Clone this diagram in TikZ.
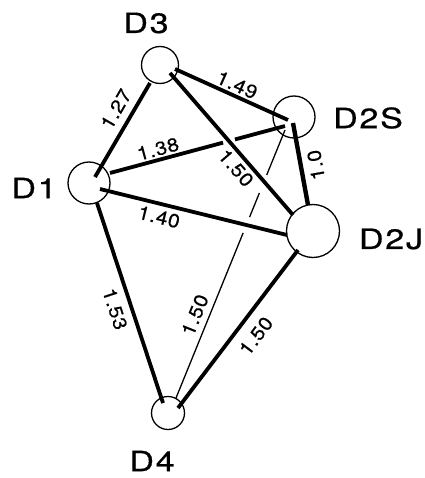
\documentclass[tikz,border=0pt]{standalone}
\usepackage{fontspec}
\setmainfont{TeX Gyre Heros}
\newfontfamily\bigfont[LetterSpace=6,FakeStretch=1.22,FakeBold=0.6]{TeX Gyre Heros}
\newfontfamily\smallfont[LetterSpace=3,FakeStretch=1.1,FakeBold=0.5]{TeX Gyre Heros}
\usetikzlibrary{calc}
\tikzset{
  site/.style={circle, draw, line width=1.3pt, inner sep=0pt},
  name label/.style={font=\bigfont\fontsize{28}{30}\selectfont, inner sep=0pt},
  wlabel/.style={font=\smallfont\fontsize{19}{20}\selectfont, inner sep=0pt},
  heavy/.style={line width=3.8pt},
  light/.style={line width=1.3pt}
}
\begin{document}
\begin{tikzpicture}[x=1pt,y=-1pt]
\useasboundingbox (0,0) rectangle (424,478);
% sites
\node[site, minimum size=37pt] (d3) at (160,65) {};
\node[site, minimum size=42pt] (d2s) at (294,117) {};
\node[site, minimum size=42pt] (d1) at (89,183) {};
\node[site, minimum size=53pt] (d2j) at (313,231) {};
\node[site, minimum size=33pt] (d4) at (168,413) {};
% names
\node[name label] (t3) at (146,23) {D3};
\node[name label] (t2s) at (368,118) {D2S};
\node[name label] (t1) at (34,188) {D1};
\node[name label] (t2j) at (391,239) {D2J};
\node[name label] (t4) at (152,461) {D4};
% end points of connectors
\coordinate (a13) at ($(d1)+(6,-6)$);
\coordinate (b13) at ($(d3)+(-10,18)$);
\coordinate (a32s) at ($(d3)+(15,4)$);
\coordinate (b32s) at ($(d2s)+(-6,3)$);
\coordinate (a32j) at ($(d3)+(10,8)$);
\coordinate (b32j) at ($(d2j)+(-20,-16)$);
\coordinate (a12s) at ($(d1)+(21,-10)$);
\coordinate (b12s) at ($(d2s)+(-9,9)$);
\coordinate (a12j) at ($(d1)+(11,6)$);
\coordinate (b12j) at ($(d2j)+(-26,4)$);
\coordinate (a2s2j) at ($(d2s)+(-1,6)$);
\coordinate (b2s2j) at ($(d2j)+(-5,-26)$);
\coordinate (a14) at ($(d1)+(8,20)$);
\coordinate (b14) at ($(d4)+(-5,-10)$);
\coordinate (a2s4) at ($(d2s)+(-9,13)$);
\coordinate (b2s4) at ($(d4)+(8,-15)$);
\coordinate (a2j4) at ($(d2j)+(-15,19)$);
\coordinate (b2j4) at ($(d4)+(10,-5)$);
% connectors
\draw[heavy] (a13) -- (b13);
\draw[heavy] (a32s) -- (b32s);
\draw[heavy] (a32j) -- (b32j);
\draw[heavy] (a12s) -- ($(a12s)!0.646!(b12s)$);
\draw[heavy] ($(a12s)!0.714!(b12s)$) -- (b12s);
\draw[heavy] (a12j) -- (b12j);
\draw[line width=4.4pt] (a2s2j) -- (b2s2j);
\draw[heavy] (a14) -- (b14);
\draw[heavy] (a2j4) -- (b2j4);
\draw[light] (b2s4) -- ($(b2s4)!0.616!(a2s4)$);
\draw[light] ($(b2s4)!0.675!(a2s4)$) -- ($(b2s4)!0.765!(a2s4)$);
\draw[light] ($(b2s4)!0.832!(a2s4)$) -- (a2s4);
% weights
\node[wlabel, rotate=60] (w13) at (116,109) {1.27};
\node[wlabel, rotate=-24] (w32s) at (237,85) {1.49};
\node[wlabel, rotate=15] (w12s) at (158,149) {1.38};
\node[wlabel, rotate=-49] (w32j) at (236,168) {1.50};
\node[wlabel, rotate=-14] (w12j) at (159,217) {1.40};
\node[wlabel, rotate=100] (w2s2j) at (316,165) {1.0};
\node[wlabel, rotate=-72] (w14) at (115,309) {1.53};
\node[wlabel, rotate=68] (w2s4) at (195,315) {1.50};
\node[wlabel, rotate=53] (w2j4) at (256,336) {1.50};
\end{tikzpicture}
\end{document}
